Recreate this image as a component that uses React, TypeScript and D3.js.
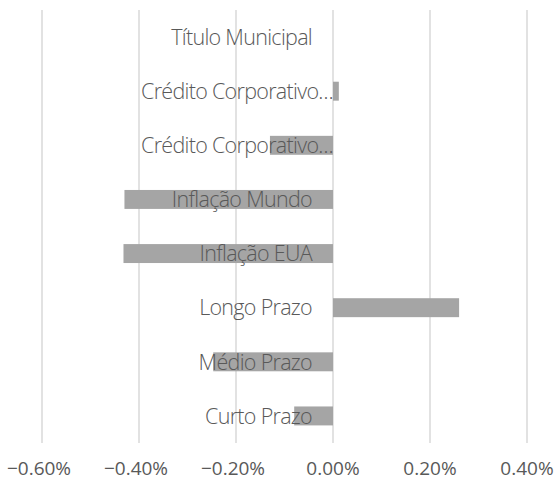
import * as d3 from "d3"

// ordem de cima para baixo, como no gráfico
const categories = [
  "Título Municipal",
  "Crédito Corporativo…",
  "Crédito Corporativo… ",
  "Inflação Mundo",
  "Inflação EUA",
  "Longo Prazo",
  "Médio Prazo",
  "Curto Prazo",
]
const values = [0, 0.00012, -0.0013, -0.0043, -0.00432, 0.0026, -0.00247, -0.0008]
const ticks = [-0.006, -0.004, -0.002, 0, 0.002, 0.004]

const W = 560
const H = 489
const FONT = "'Open Sans', sans-serif"
const TEXT = "#595959"

export default function App() {
  const x = d3.scaleLinear().domain([-0.006, 0.004]).range([42, 527])
  const y = d3.scaleBand().domain(categories).range([10, 443]).paddingInner(0.65).paddingOuter(0.325)
  const fmt = d3.format(".2%")
  const x0 = x(0)

  return (
    <div style={{ position: "absolute", left: 0, top: 0 }}>
      <svg width={W} height={H} style={{ display: "block", background: "#fff" }}>
        <g>
          {ticks.map((t) => (
            <line key={t} x1={x(t)} x2={x(t)} y1={10} y2={443} stroke="#d9d9d9" strokeWidth={1.5} />
          ))}
        </g>
        <g>
          {categories.map((c, i) => {
            const v = values[i]
            return (
              <rect key={c} x={Math.min(x(v), x0)} width={Math.abs(x(v) - x0)}
                y={y(c)} height={y.bandwidth()} fill="#a5a5a5" />
            )
          })}
        </g>
        <g fontFamily={FONT} fontSize={21.5} fill={TEXT}>
          {categories.map((c) => {
            const trunc = c.trim().endsWith("…")
            return (
              <text key={c} x={trunc ? x0 : x0 - 21} y={(y(c) ?? 0) + y.bandwidth() / 2}
                dy="0.36em" textAnchor="end" fontWeight={300} letterSpacing={-0.7}>
                {c.trim()}
              </text>
            )
          })}
        </g>
        <g fontFamily={FONT} fontSize={19} fill={TEXT}>
          {ticks.map((t) => (
            <text key={t} x={x(t) - (t < 0 ? 3 : 0)} y={475} textAnchor="middle">{fmt(t)}</text>
          ))}
        </g>
      </svg>
    </div>
  )
}
